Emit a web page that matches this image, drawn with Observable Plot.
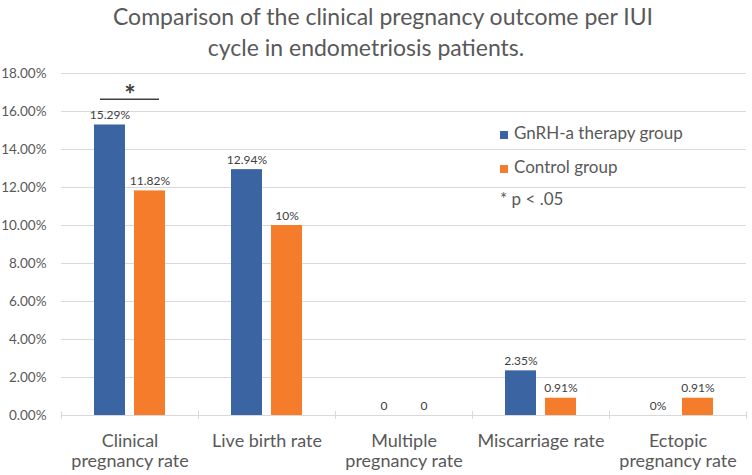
<!DOCTYPE html>
<html>
<head>
<meta charset="utf-8">
<script src="https://cdn.jsdelivr.net/npm/d3@7"></script>
<script src="https://cdn.jsdelivr.net/npm/@observablehq/plot@0.6"></script>
<style>
  html, body { margin: 0; padding: 0; background: #fff; }
  #wrap { position: relative; width: 752px; height: 475px; font-family: Lato, sans-serif; color: #595959; }
  #title { position: relative; height: 64px; }
  .tline { position: absolute; width: 700px; text-align: center; font-size: 23px; line-height: 28px; white-space: nowrap; color: #595959; }
  .leg { position: absolute; font-size: 17px; line-height: 20px; white-space: nowrap; color: #595959; }
  .sw { position: absolute; width: 8px; height: 8px; }
</style>
</head>
<body>
<div id="wrap">
  <div id="title"></div>
  <div id="chart"></div>
  <div id="legend"></div>
</div>
<script>
const titleLines = ["Comparison of the clinical pregnancy outcome per IUI", "cycle in endometriosis patients."];
const categories = ["Clinical pregnancy rate", "Live birth rate", "Multiple pregnancy rate", "Miscarriage rate", "Ectopic pregnancy rate"];
const categoryLabels = ["Clinical\npregnancy rate", "Live birth rate", "Multiple\npregnancy rate", "Miscarriage rate", "Ectopic\npregnancy rate"];
const groups = ["GnRH-a therapy group", "Control group"];
const groupColors = ["#3b64a2", "#f47c2a"];
const gnrhValues = [15.29, 12.94, 0, 2.35, 0];
const controlValues = [11.82, 10, 0, 0.91, 0.91];
const gnrhLabels = ["15.29%", "12.94%", "0", "2.35%", "0%"];
const controlLabels = ["11.82%", "10%", "0", "0.91%", "0.91%"];
const yTicks = [0, 2, 4, 6, 8, 10, 12, 14, 16, 18];
const sigCategories = ["Clinical pregnancy rate"];
const sigNote = "* p < .05";

const rows = [];
categories.forEach((c, i) => {
  rows.push({category: c, group: groups[0], value: gnrhValues[i], label: gnrhLabels[i]});
  rows.push({category: c, group: groups[1], value: controlValues[i], label: controlLabels[i]});
});
const catRows = categories.map((c, i) => ({category: c, label: categoryLabels[i]}));
const sigRows = sigCategories.map(c => {
  const i = categories.indexOf(c);
  const top = Math.max(gnrhValues[i], controlValues[i]);
  return {category: c, line: top + 1.35, star: top + 1.75};
});

// title
const title = document.getElementById("title");
const centers = [383, 366];
const tops = [2, 33];
titleLines.forEach((t, i) => {
  const d = document.createElement("div");
  d.className = "tline";
  d.textContent = t;
  d.style.left = (centers[i] - 350) + "px";
  d.style.top = tops[i] + "px";
  title.appendChild(d);
});

const chart = Plot.plot({
  width: 752,
  height: 411,
  marginTop: 9,
  marginBottom: 60,
  marginLeft: 60,
  marginRight: 5,
  style: {fontFamily: "Lato, sans-serif", background: "#fff", overflow: "visible"},
  fx: {domain: categories, padding: 0, axis: null, label: null},
  x: {domain: groups, paddingInner: 0.225, paddingOuter: 0.825, axis: null},
  y: {domain: [0, 18], axis: null},
  color: {domain: groups, range: groupColors},
  marks: [
    Plot.gridY(yTicks, {stroke: "#d9d9d9", strokeOpacity: 1, strokeWidth: 1}),
    Plot.frame({anchor: "left", stroke: "#d9d9d9", strokeOpacity: 1, insetTop: 338, insetBottom: -3}),
    Plot.frame({anchor: "right", stroke: "#d9d9d9", strokeOpacity: 1, insetTop: 338, insetBottom: -3}),
    Plot.axisY(yTicks, {tickSize: 0, tickPadding: 15, tickFormat: d => d.toFixed(2) + "%", fontSize: 13.5, fill: "#595959", label: null}),
    Plot.barY(rows, {fx: "category", x: "group", y: "value", fill: "group"}),
    Plot.text(rows, {fx: "category", x: "group", y: "value", text: "label", dy: -6, lineAnchor: "bottom", fontSize: 12, fill: "#404040"}),
    Plot.text(catRows, {fx: "category", text: "label", frameAnchor: "bottom", lineAnchor: "top", dy: 17, fontSize: 18, lineHeight: 1.13, fill: "#595959"}),
    Plot.ruleY(sigRows, {fx: "category", y: "line", x1: () => groups[0], x2: () => groups[1], insetLeft: 6, insetRight: 6, stroke: "#404040", strokeWidth: 1.5}),
    Plot.text(sigRows, {fx: "category", y: "star", text: () => "*", fontSize: 27, fontWeight: "bold", fill: "#404040", lineAnchor: "middle", dy: 4})
  ]
});
document.getElementById("chart").appendChild(chart);

// legend
const legend = document.getElementById("legend");
const legTops = [122.5, 156.5];
groups.forEach((g, i) => {
  const sw = document.createElement("div");
  sw.className = "sw";
  sw.style.background = groupColors[i];
  sw.style.left = "500px";
  sw.style.top = (legTops[i] + 8) + "px";
  legend.appendChild(sw);
  const t = document.createElement("div");
  t.className = "leg";
  t.textContent = g;
  t.style.left = "514px";
  t.style.top = legTops[i] + "px";
  legend.appendChild(t);
});
const note = document.createElement("div");
note.className = "leg";
note.textContent = sigNote;
note.style.left = "500px";
note.style.top = "188.5px";
legend.appendChild(note);
</script>
</body>
</html>
